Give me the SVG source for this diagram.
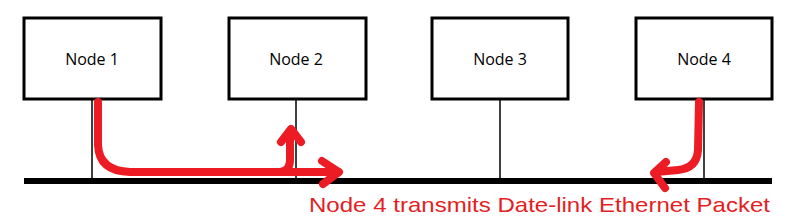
<svg xmlns="http://www.w3.org/2000/svg" width="792" height="223" viewBox="0 0 792 223">
<style>
.box{fill:#fff;stroke:#000;stroke-width:3}
.lbl{font-family:"Open Sans","Liberation Sans",sans-serif;font-size:16px;fill:#000;text-anchor:middle}
.drop{stroke:#000;stroke-width:1.5;fill:none}
.red{stroke:#ed1c24;stroke-width:8;fill:none;stroke-linecap:round;stroke-linejoin:round}
</style>
<rect width="792" height="223" fill="#fff"/>
<g id="connectors">
<line class="drop" x1="92" y1="99" x2="92" y2="180"/>
<line class="drop" x1="296" y1="99" x2="296" y2="180"/>
<line class="drop" x1="500" y1="99" x2="500" y2="180"/>
<line class="drop" x1="704" y1="99" x2="704" y2="180"/>
<line x1="24" y1="181" x2="772" y2="181" stroke="#000" stroke-width="6"/>
</g>
<g id="node1"><rect class="box" x="24" y="18" width="137" height="81"/><text class="lbl" x="92" y="65">Node 1</text></g>
<g id="node2"><rect class="box" x="229" y="18" width="137" height="81"/><text class="lbl" x="296" y="65">Node 2</text></g>
<g id="node3"><rect class="box" x="432" y="18" width="136" height="81"/><text class="lbl" x="500" y="65">Node 3</text></g>
<g id="node4"><rect class="box" x="636" y="18" width="136" height="81"/><text class="lbl" x="704" y="65">Node 4</text></g>
<g id="arrows">
<path class="red" d="M98,102 L98,145 Q99,171 130,172 L338,172"/>
<path class="red" d="M322,161 L339,172 L323,184"/>
<path class="red" d="M280,172 Q290,171 290,160 L290,131"/>
<path class="red" d="M281,142 L291,129 L301,142"/>
<path class="red" d="M699,102 L698,150 Q697,168 678,170 L656,172"/>
<path class="red" d="M666,162 L654,173 L665,188"/>
</g>
<text x="309" y="212" font-family="'Liberation Sans',Arial,sans-serif" font-size="21" textLength="461" lengthAdjust="spacingAndGlyphs" fill="#e31e24">Node 4 transmits Date-link Ethernet Packet</text>
</svg>
